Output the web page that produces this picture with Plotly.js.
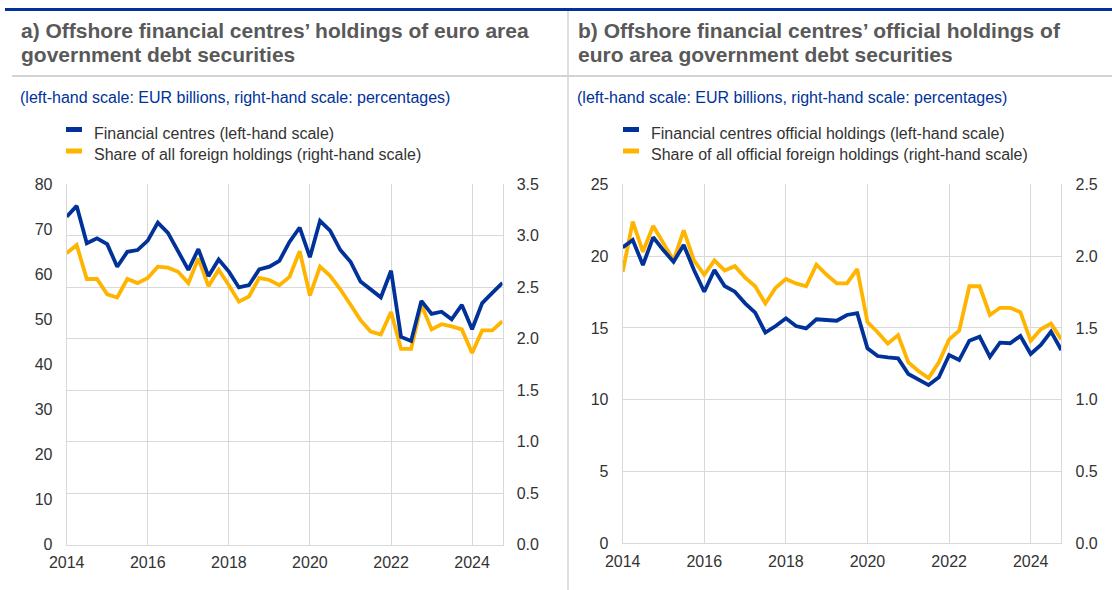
<!DOCTYPE html>
<html>
<head>
<meta charset="utf-8">
<script src="https://cdn.plot.ly/plotly-3.0.1.min.js"></script>
<style>
  html, body { margin: 0; padding: 0; background: #ffffff; }
  #chart { width: 1112px; height: 590px; }
</style>
</head>
<body>
<div id="chart"></div>
<script>
// Quarterly observation dates (2014 Q1 - 2024 Q4)
var quarters = [
  "2014-01-01","2014-04-01","2014-07-01","2014-10-01",
  "2015-01-01","2015-04-01","2015-07-01","2015-10-01",
  "2016-01-01","2016-04-01","2016-07-01","2016-10-01",
  "2017-01-01","2017-04-01","2017-07-01","2017-10-01",
  "2018-01-01","2018-04-01","2018-07-01","2018-10-01",
  "2019-01-01","2019-04-01","2019-07-01","2019-10-01",
  "2020-01-01","2020-04-01","2020-07-01","2020-10-01",
  "2021-01-01","2021-04-01","2021-07-01","2021-10-01",
  "2022-01-01","2022-04-01","2022-07-01","2022-10-01",
  "2023-01-01","2023-04-01","2023-07-01","2023-10-01",
  "2024-01-01","2024-04-01","2024-07-01","2024-10-01"
];

// Panel a) – Financial centres holdings (EUR billions, left-hand scale)
var fcHoldings = [
  72.8, 75.2, 66.9, 68.0, 66.7, 61.7, 65.0, 65.4,
  67.5, 71.5, 69.2, 65.0, 61.0, 65.6, 59.6, 63.3,
  60.6, 57.1, 57.6, 61.1, 61.7, 63.0, 67.2, 70.4,
  63.8, 71.9, 69.7, 65.4, 62.8, 58.4, 56.7, 54.9,
  60.8, 46.1, 45.2, 54.1, 51.2, 51.7, 50.0, 53.2,
  47.8, 53.6, 55.9, 58.1
];
// Panel a) – Share of all foreign holdings (percentages, right-hand scale)
var fcShare = [
  2.83, 2.91, 2.58, 2.58, 2.43, 2.40, 2.58, 2.54,
  2.59, 2.70, 2.69, 2.65, 2.54, 2.78, 2.51, 2.67,
  2.52, 2.36, 2.41, 2.59, 2.57, 2.52, 2.60, 2.85,
  2.42, 2.70, 2.61, 2.48, 2.33, 2.18, 2.07, 2.04,
  2.26, 1.90, 1.90, 2.33, 2.09, 2.14, 2.12, 2.09,
  1.86, 2.08, 2.08, 2.17
];

// Panel b) – Financial centres official holdings (EUR billions, left-hand scale)
var officialHoldings = [
  20.61, 21.12, 19.38, 21.31, 20.40, 19.61, 20.77, 19.03,
  17.52, 19.03, 17.92, 17.52, 16.71, 16.06, 14.67, 15.13,
  15.67, 15.13, 14.97, 15.60, 15.55, 15.50, 15.90, 16.03,
  13.58, 13.04, 12.95, 12.88, 11.79, 11.42, 11.02, 11.56,
  13.11, 12.76, 14.11, 14.39, 12.99, 13.97, 13.93, 14.44,
  13.18, 13.81, 14.74, 13.46
];
// Panel b) – Share of all official foreign holdings (percentages, right-hand scale)
var officialShare = [
  1.89, 2.24, 2.03, 2.21, 2.09, 1.97, 2.18, 1.97,
  1.87, 1.97, 1.90, 1.93, 1.85, 1.79, 1.67, 1.78,
  1.84, 1.81, 1.79, 1.94, 1.87, 1.81, 1.81, 1.91,
  1.54, 1.47, 1.39, 1.45, 1.26, 1.20, 1.15, 1.26,
  1.42, 1.48, 1.79, 1.79, 1.59, 1.64, 1.64, 1.61,
  1.41, 1.49, 1.53, 1.42
];

// Text
var titleA = ["a) Offshore financial centres\u2019 holdings of euro area", "government debt securities"];
var titleB = ["b) Offshore financial centres\u2019 official holdings of", "euro area government debt securities"];
var subtitle = "(left-hand scale: EUR billions, right-hand scale: percentages)";
var legendA = ["Financial centres (left-hand scale)", "Share of all foreign holdings (right-hand scale)"];
var legendB = ["Financial centres official holdings (left-hand scale)", "Share of all official foreign holdings (right-hand scale)"];

var W = 1112, H = 590;
function px(x) { return x / W; }
function py(y) { return 1 - y / H; }

var BLUE = "#003299", YELLOW = "#FFB400", GRID = "#d9d9d9";
var FONT = "Liberation Sans, Arial, sans-serif";

var traces = [
  { x: quarters, y: fcShare, name: legendA[1], type: "scatter", mode: "lines",
    line: { color: YELLOW, width: 3.8 }, xaxis: "x", yaxis: "y", showlegend: false },
  { x: quarters, y: fcHoldings, name: legendA[0], type: "scatter", mode: "lines",
    line: { color: BLUE, width: 3.8 }, xaxis: "x", yaxis: "y2", showlegend: false },
  { x: quarters, y: officialShare, name: legendB[1], type: "scatter", mode: "lines",
    line: { color: YELLOW, width: 3.8 }, xaxis: "x2", yaxis: "y3", showlegend: false },
  { x: quarters, y: officialHoldings, name: legendB[0], type: "scatter", mode: "lines",
    line: { color: BLUE, width: 3.8 }, xaxis: "x2", yaxis: "y4", showlegend: false }
];

var tickFont = { family: FONT, size: 16, color: "#333333" };

function xAxis(domain, anchor) {
  return {
    domain: domain, anchor: anchor, type: "date",
    range: ["2014-01-01", "2024-10-01"],
    tick0: "2014-01-01", dtick: "M24", tickformat: "%Y",
    showgrid: true, gridcolor: GRID, gridwidth: 1,
    showline: true, linecolor: GRID, linewidth: 1,
    zeroline: false, ticks: "", ticklabelstandoff: 3,
    tickfont: tickFont, fixedrange: true
  };
}
function yAxisRight(domain, anchor, maxV) {
  return {
    domain: domain, anchor: anchor, side: "right",
    range: [0, maxV], dtick: 0.5, tick0: 0, tickformat: ".1f",
    showgrid: true, gridcolor: GRID, gridwidth: 1,
    showline: true, linecolor: GRID, linewidth: 1,
    zeroline: false, ticks: "", ticklabelstandoff: 10,
    tickfont: tickFont, fixedrange: true
  };
}
function yAxisLeft(overlay, anchor, maxV, dt) {
  return {
    overlaying: overlay, anchor: anchor, side: "left",
    range: [0, maxV], dtick: dt, tick0: 0,
    showgrid: false, showline: true, linecolor: GRID, linewidth: 1,
    zeroline: false, ticks: "", ticklabelstandoff: 10,
    tickfont: tickFont, fixedrange: true
  };
}

var domYA = [py(544.5), py(184.3)];
var domYB = [py(543.3), py(184.3)];

var annotations = [];
function addText(text, x, y, size, color, bold) {
  annotations.push({
    xref: "paper", yref: "paper", x: px(x), y: py(y),
    xanchor: "left", yanchor: "middle", showarrow: false,
    text: bold ? "<b>" + text + "</b>" : text,
    font: { family: FONT, size: size, color: color }, align: "left"
  });
}
addText(titleA[0], 19, 31, 21, "#595959", true);
addText(titleA[1], 19, 55, 21, "#595959", true);
addText(titleB[0], 576, 31, 21, "#595959", true);
addText(titleB[1], 576, 55, 21, "#595959", true);
addText(subtitle, 18, 97.5, 16, BLUE, false);
addText(subtitle, 575, 97.5, 16, BLUE, false);
addText(legendA[0], 92, 133, 16, "#333333", false);
addText(legendA[1], 92, 155, 16, "#333333", false);
addText(legendB[0], 649, 133, 16, "#333333", false);
addText(legendB[1], 649, 155, 16, "#333333", false);

var shapes = [
  { type: "line", xref: "paper", yref: "paper", x0: px(5), x1: 1, y0: py(9.5), y1: py(9.5),
    line: { color: BLUE, width: 3 } },
  { type: "line", xref: "paper", yref: "paper", x0: px(12), x1: 1, y0: py(76), y1: py(76),
    line: { color: "#d4d4d4", width: 2 } },
  { type: "line", xref: "paper", yref: "paper", x0: px(568), x1: px(568), y0: py(11), y1: 0,
    line: { color: "#d4d4d4", width: 1.5 } },
  // legend keys
  { type: "line", xref: "paper", yref: "paper", x0: px(66), x1: px(82), y0: py(129.5), y1: py(129.5),
    line: { color: BLUE, width: 5 } },
  { type: "line", xref: "paper", yref: "paper", x0: px(66), x1: px(82), y0: py(151), y1: py(151),
    line: { color: YELLOW, width: 5 } },
  { type: "line", xref: "paper", yref: "paper", x0: px(623), x1: px(639), y0: py(129.5), y1: py(129.5),
    line: { color: BLUE, width: 5 } },
  { type: "line", xref: "paper", yref: "paper", x0: px(623), x1: px(639), y0: py(151), y1: py(151),
    line: { color: YELLOW, width: 5 } }
];

var layout = {
  width: W, height: H,
  margin: { l: 0, r: 0, t: 0, b: 0 },
  paper_bgcolor: "#ffffff", plot_bgcolor: "#ffffff",
  showlegend: false,
  font: { family: FONT, size: 16, color: "#333333" },
  xaxis: xAxis([px(66.7), px(502.5)], "y"),
  yaxis: yAxisRight(domYA, "x", 3.5),
  yaxis2: yAxisLeft("y", "x", 80, 10),
  xaxis2: xAxis([px(622.7), px(1061.3)], "y3"),
  yaxis3: yAxisRight(domYB, "x2", 2.5),
  yaxis4: yAxisLeft("y3", "x2", 25, 5),
  annotations: annotations,
  shapes: shapes
};

Plotly.newPlot("chart", traces, layout, { displayModeBar: false, staticPlot: true });
</script>
</body>
</html>
